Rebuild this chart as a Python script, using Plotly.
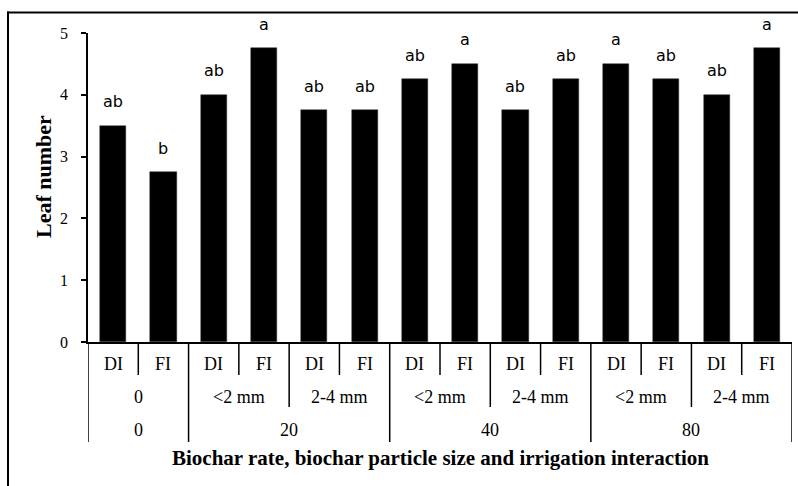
import plotly.graph_objects as go
import html

# ---- data ----
irrigation = ["DI", "FI", "DI", "FI", "DI", "FI", "DI", "FI", "DI", "FI", "DI", "FI", "DI", "FI"]
particle_size = ["0", "<2 mm", "2-4 mm", "<2 mm", "2-4 mm", "<2 mm", "2-4 mm"]
biochar_rate = ["0", "20", "40", "80"]
rate_size_counts = [1, 2, 2, 2]  # particle-size groups per rate
leaf_number = [3.5, 2.75, 4.0, 4.75, 3.75, 3.75, 4.25, 4.5, 3.75, 4.25, 4.5, 4.25, 4.0, 4.75]
letters = ["ab", "b", "ab", "a", "ab", "ab", "ab", "a", "ab", "ab", "a", "ab", "ab", "a"]
y_ticks = [0, 1, 2, 3, 4, 5]

W, H = 798, 486
L, R, T, B = 88, 6, 33, 144
pw, ph = W - L - R, H - T - B


def py(p):  # pixel y -> paper y
    return (H - B - p) / ph


def px(p):
    return (p - L) / pw


serif = "Liberation Serif"
xs = list(range(len(leaf_number)))

fig = go.Figure()
fig.add_trace(go.Bar(x=xs, y=leaf_number, width=0.52,
                     marker=dict(color="black", line=dict(color="#333", width=0.5)),
                     hoverinfo="skip", showlegend=False))

ann = []
shapes = []
# significance letters
for x, v, t in zip(xs, leaf_number, letters):
    ann.append(dict(x=x, y=v, xref="x", yref="y", text=t, showarrow=False,
                    yshift=24, font=dict(family="DejaVu Sans", size=16, color="black")))

# row 1: irrigation
for x, t in zip(xs, irrigation):
    ann.append(dict(x=x, y=py(364), xref="x", yref="paper", text=t, showarrow=False,
                    yanchor="middle", font=dict(family=serif, size=18, color="black")))
# separators row 1
for i in range(len(xs) - 1):
    if i % 2 == 0:
        shapes.append(dict(type="line", xref="x", yref="paper", x0=i + 0.5, x1=i + 0.5,
                           y0=0, y1=py(375), line=dict(color="black", width=1.5)))

# row 2: particle size
rate_bounds = set()
pos = 0
rate_bounds.add(-0.5)
rate_centers = []
for c in rate_size_counts:
    start = pos
    pos += c * 2
    rate_bounds.add(pos - 0.5)
    rate_centers.append((start + pos - 1) / 2)

for g, t in enumerate(particle_size):
    cx = g * 2 + 0.5
    ann.append(dict(x=cx, y=py(397), xref="x", yref="paper", text=html.escape(t), showarrow=False,
                    yanchor="middle", font=dict(family=serif, size=18, color="black")))
for g in range(len(particle_size) + 1):
    b = g * 2 - 0.5
    if b in rate_bounds:
        continue
    shapes.append(dict(type="line", xref="x", yref="paper", x0=b, x1=b,
                       y0=0, y1=py(407), line=dict(color="black", width=1.5)))

# row 3: biochar rate
for cx, t in zip(rate_centers, biochar_rate):
    ann.append(dict(x=cx, y=py(430), xref="x", yref="paper", text=t, showarrow=False,
                    yanchor="middle", font=dict(family=serif, size=18, color="black")))
for b in sorted(rate_bounds):
    shapes.append(dict(type="line", xref="x", yref="paper", x0=b, x1=b,
                       y0=0, y1=py(442), line=dict(color="black", width=1.5)))

# x title
ann.append(dict(x=0.5, y=py(458), xref="paper", yref="paper",
                text="<b>Biochar rate, biochar particle size and irrigation interaction</b>",
                showarrow=False, yanchor="middle",
                font=dict(family=serif, size=21, color="black")))
# y title
ann.append(dict(x=px(43), y=py(177), xref="paper", yref="paper", text="<b>Leaf number</b>",
                textangle=-90, showarrow=False, xanchor="center", yanchor="middle",
                font=dict(family=serif, size=22, color="black")))

# outer chart frame: only its top and left edges are inside the picture
shapes.append(dict(type="line", xref="paper", yref="paper", x0=px(7), x1=px(W),
                   y0=py(12.5), y1=py(12.5), line=dict(color="black", width=2)))
shapes.append(dict(type="line", xref="paper", yref="paper", x0=px(8), x1=px(8),
                   y0=py(H), y1=py(11.5), line=dict(color="black", width=2)))

fig.update_layout(
    width=W, height=H, margin=dict(l=L, r=R, t=T, b=B),
    paper_bgcolor="white", plot_bgcolor="white",
    annotations=ann, shapes=shapes, bargap=0,
    xaxis=dict(range=[-0.5, len(xs) - 0.5], showticklabels=False, showgrid=False,
               zeroline=False, showline=True, linecolor="black", linewidth=1.5, ticks=""),
    yaxis=dict(range=[0, 5], tickvals=y_ticks, showgrid=False, zeroline=False,
               showline=True, linecolor="black", linewidth=1.5, ticks="outside",
               ticklen=5, tickcolor="black", tickwidth=1.5, ticklabelstandoff=10,
               tickfont=dict(family=serif, size=16, color="black")),
)

fig.write_html("out.html")
